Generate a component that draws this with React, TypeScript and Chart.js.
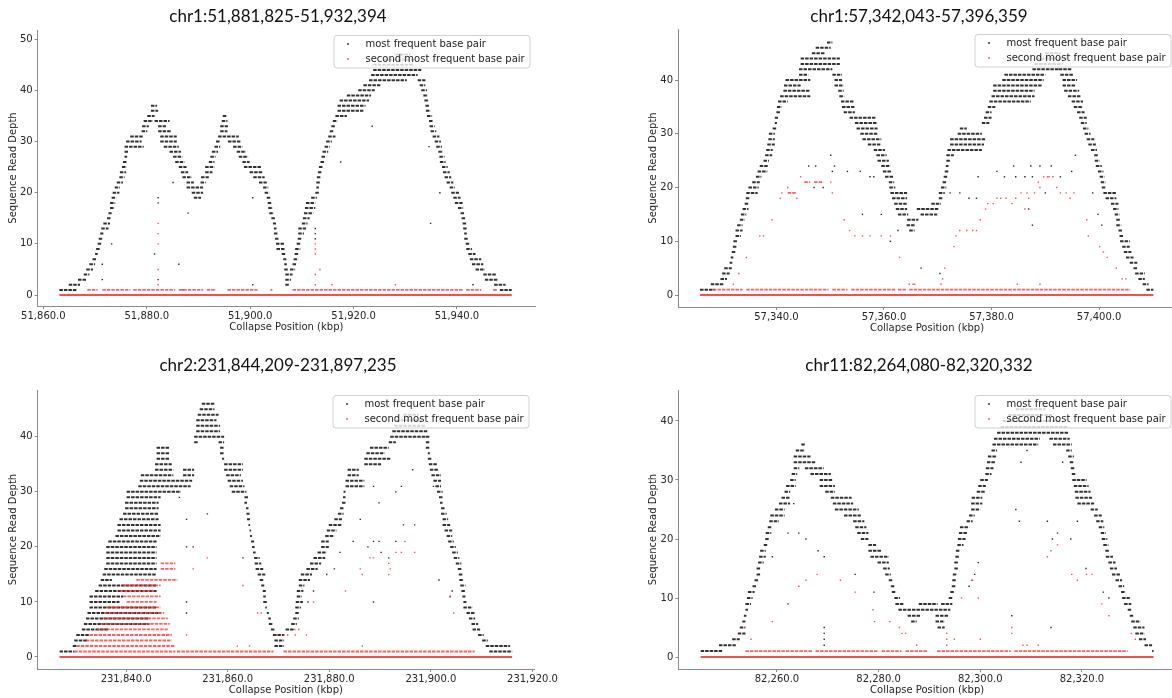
import React, { useEffect, useRef } from "react";
import { Chart, registerables } from "chart.js";
Chart.register(...registerables);

type Run = [number, number, number]; // [start kbp, end kbp, depth]
type Dot = [number, number]; // [kbp, depth]

// ---------------- Panel 1: chr1:51,881,825-51,932,394 ----------------
const p1Title = "chr1:51,881,825-51,932,394";
const p1Baseline: [number, number] = [51863.1, 51950.6];
const p1Black: Run[] = [
  [51863.1,51866.4,1],[51864.9,51867.1,2],[51866.7,51868.3,3],[51867.8,51868.9,4],[51868.3,51869.6,5],[51868.9,51870.0,6],[51869.5,51870.3,7],[51870.0,51870.5,8],[51870.2,51870.9,9],[51870.5,51871.2,10],[51870.7,51871.4,11],[51871.0,51871.6,12],[51871.2,51872.6,13],[51871.6,51872.9,14],[51872.3,51873.1,15],[51872.6,51873.2,16],[51872.9,51873.6,17],[51872.9,51873.9,18],[51873.2,51874.1,19],[51873.4,51874.7,20],[51873.8,51874.8,21],[51874.2,51875.4,22],[51874.7,51875.7,23],[51874.8,51876.0,24],[51875.2,51876.1,25],[51875.4,51876.1,26],[51875.7,51876.2,27],[51875.7,51876.5,28],[51875.7,51879.4,29],[51876.0,51879.0,30],[51876.8,51879.4,31],[51879.0,51880.1,32],[51879.1,51880.4,33],[51879.4,51881.2,34],[51880.1,51881.5,35],[51880.8,51882.2,36],[51880.8,51882.0,37],
  [51881.5,51884.4,34],[51882.2,51883.7,33],[51882.2,51884.8,32],[51882.6,51885.8,31],[51882.6,51885.8,30],[51883.3,51886.2,29],[51884.4,51886.6,28],[51885.1,51886.9,27],[51885.5,51887.3,26],[51886.2,51887.7,25],[51886.6,51888.0,24],[51886.9,51888.7,23],[51887.7,51889.1,22],[51887.7,51890.9,21],[51888.7,51890.9,20],[51889.1,51890.5,19],
  [51890.4,51891.4,22],[51890.5,51892.0,23],[51891.3,51892.7,24],[51891.3,51893.1,25],[51892.0,51893.1,26],[51892.3,51893.3,27],[51892.6,51893.8,28],[51893.1,51894.2,29],[51893.4,51894.2,30],[51893.8,51897.8,31],[51894.2,51895.6,32],[51894.2,51895.7,33],[51894.5,51895.6,34],[51894.7,51895.4,35],
  [51895.7,51898.1,30],[51896.7,51898.5,29],[51897.4,51899.2,28],[51897.8,51899.6,27],[51898.5,51899.9,26],[51898.8,51902.1,25],[51899.9,51902.5,24],[51900.6,51902.8,23],[51901.7,51903.2,22],[51902.5,51903.5,21],[51902.8,51903.7,20],[51903.2,51903.9,19],[51903.4,51904.1,18],[51903.5,51904.4,17],[51903.7,51904.6,16],[51904.1,51904.8,15],[51904.4,51905.0,14],[51904.6,51905.1,13],[51904.6,51905.3,12],[51904.8,51905.5,11],[51905.0,51906.6,10],[51905.1,51906.8,9],[51906.1,51906.8,8],[51906.4,51907.0,7],[51906.6,51907.1,6],[51906.6,51907.3,5],[51906.8,51908.2,4],[51906.8,51907.9,3],[51906.8,51907.5,2],
  [51907.7,51908.7,5],[51908.2,51909.0,6],[51908.4,51909.3,7],[51908.6,51909.3,8],[51908.7,51909.7,9],[51909.0,51909.7,10],[51909.2,51910.0,11],[51909.3,51910.4,12],[51909.3,51910.8,13],[51910.0,51911.1,14],[51910.2,51911.5,15],[51910.4,51912.2,16],[51910.6,51912.6,17],[51910.8,51912.6,18],[51911.8,51912.9,19],[51912.6,51913.3,20],[51912.8,51913.3,21],[51912.8,51913.5,22],[51912.9,51913.6,23],[51913.1,51913.8,24],[51913.3,51914.0,25],[51913.6,51914.4,26],[51913.8,51914.7,27],[51914.0,51915.1,28],[51914.4,51915.4,29],[51914.7,51915.8,30],[51915.1,51916.5,31],[51915.4,51916.2,32],[51915.7,51916.5,33],[51916.0,51916.9,34],[51916.5,51918.7,35],[51916.9,51921.9,36],[51916.9,51922.3,37],[51917.3,51923.0,38],[51918.7,51923.4,39],[51920.9,51924.1,40],[51921.9,51925.2,41],[51923.0,51930.3,42],[51923.4,51932.4,43],[51923.8,51933.1,44],[51923.8,51931.7,45],[51925.9,51931.7,46],[51928.1,51931.0,47],
  [51932.4,51933.9,42],[51932.8,51933.9,41],[51933.1,51934.2,40],[51933.5,51934.4,39],[51933.7,51934.6,38],[51933.9,51934.7,37],[51934.0,51934.9,36],[51934.2,51935.2,35],[51934.6,51935.3,34],[51934.7,51935.7,33],[51934.9,51936.0,32],[51935.3,51936.6,31],[51935.7,51936.9,30],[51936.0,51937.1,29],[51936.4,51937.3,28],[51936.6,51937.6,27],[51936.7,51937.8,26],[51937.1,51938.2,25],[51937.3,51938.6,24],[51937.6,51938.9,23],[51938.0,51939.3,22],[51938.6,51939.6,21],[51938.9,51940.4,20],[51939.3,51940.7,19],[51939.6,51941.1,18],[51940.2,51941.2,17],[51940.7,51941.4,16],[51940.9,51941.7,15],[51941.1,51941.8,14],[51941.2,51941.9,13],[51941.4,51941.9,12],[51941.4,51942.2,11],[51941.7,51942.5,10],[51941.8,51942.9,9],[51942.2,51943.6,8],[51942.5,51944.7,7],[51942.9,51945.1,6],[51943.6,51945.4,5],[51945.1,51947.6,4],[51945.4,51947.9,3],[51947.2,51949.4,2],[51948.3,51950.6,1],
];
const p1BlackDots: Dot[] = [
  [51873.2,10],[51871.4,6],[51871.4,3],[51881.5,8],[51882.2,19],[51882.2,18],[51882.2,3],[51886.2,6],[51888.0,16],[51885.1,22],[51900.5,19],[51900.5,2],[51917.5,26],[51923.6,33],[51934.6,29],[51934.9,14],[51936.7,20],[51943.1,2],[51912.6,13],[51912.6,12],[51912.6,11],[51887.0,1],
];
const p1RedRuns: Run[] = [
  [51868.5,51870.5,1],[51871.4,51876.8,1],[51877.4,51885.5,1],[51886.2,51890.9,1],[51891.6,51893.4,1],[51895.6,51901.4,1],[51903.9,51904.3,1],[51908.2,51941.1,1],[51941.8,51944.7,1],[51947.0,51947.6,1],
];
const p1RedDots: Dot[] = [
  [51882.2,14],[51882.2,12],[51882.2,10],[51882.2,5],[51882.2,2],[51912.6,10],[51912.6,9],[51912.6,8],[51912.6,2],[51913.5,5],[51912.6,4],[51915.8,2],[51928.1,2],[51947.6,1],
];

// ---------------- Panel 2: chr1:57,342,043-57,396,359 ----------------
const p2Title = "chr1:57,342,043-57,396,359";
const p2Baseline: [number, number] = [57325.8, 57410.1];
const p2Black: Run[] = [
  [57325.8,57328.5,1],[57327.8,57330.3,2],[57329.6,57330.8,3],[57329.9,57331.3,4],[57330.3,57331.7,5],[57331.3,57331.8,6],[57331.5,57332.0,7],[57331.7,57332.4,8],[57331.9,57332.7,9],[57332.0,57332.7,10],[57332.4,57333.4,11],[57332.4,57333.7,12],[57332.7,57333.7,13],[57333.2,57334.1,14],[57333.4,57334.4,15],[57333.7,57334.8,16],[57334.1,57334.8,17],[57334.3,57335.1,18],[57334.4,57336.5,19],[57334.8,57336.7,20],[57335.5,57336.9,21],[57336.2,57337.2,22],[57336.5,57338.3,23],[57336.9,57338.4,24],[57337.6,57338.6,25],[57337.9,57339.2,26],[57338.1,57339.3,27],[57338.3,57339.7,28],[57338.5,57339.7,29],[57338.6,57339.7,30],[57339.3,57340.0,31],[57339.7,57340.1,32],[57339.7,57340.3,33],[57340.0,57340.7,34],[57340.1,57341.0,35],[57340.3,57342.1,36],[57340.7,57346.3,37],[57341.3,57346.3,38],[57341.4,57344.5,39],[57341.7,57346.3,40],[57344.2,57345.9,41],[57344.2,57350.4,42],[57344.5,57351.8,43],[57344.5,57351.8,44],[57346.6,57349.0,45],[57347.3,57350.1,46],[57349.4,57350.4,47],
  [57350.4,57352.2,41],[57350.8,57352.2,40],[57350.8,57352.5,39],[57351.5,57352.5,38],[57351.7,57352.6,37],[57352.0,57354.5,36],[57352.2,57354.5,35],[57352.5,57354.6,34],[57353.6,57358.4,33],[57354.6,57358.8,32],[57354.9,57358.8,31],[57355.6,57358.8,30],[57356.0,57359.5,29],[57357.0,57359.5,28],[57358.1,57360.2,27],[57358.6,57360.5,26],[57358.8,57360.9,25],[57359.5,57361.2,24],[57359.8,57361.5,23],[57360.2,57361.7,22],[57360.9,57361.9,21],[57361.0,57362.1,20],[57361.2,57364.3,19],[57361.5,57364.3,18],[57361.9,57364.3,17],[57362.2,57364.3,16],[57362.6,57364.5,15],[57364.3,57366.4,14],[57364.2,57365.7,13],[57364.7,57365.7,12],
  [57366.1,57370.2,16],[57366.8,57369.9,15],
  [57368.8,57370.6,17],[57370.2,57370.9,18],[57370.2,57371.3,19],[57370.6,57371.6,20],[57370.9,57371.6,21],[57371.1,57371.8,22],[57371.3,57372.0,23],[57371.5,57372.0,24],[57371.6,57372.3,25],[57371.6,57373.0,26],[57371.8,57378.2,27],[57372.3,57378.6,28],[57372.3,57378.9,29],[57373.7,57378.2,30],[57374.1,57375.4,31],[57378.2,57379.6,32],[57378.6,57380.0,33],[57378.9,57380.0,34],[57379.3,57380.7,35],[57379.6,57387.3,36],[57380.0,57388.0,37],[57380.3,57388.0,38],[57380.3,57389.3,39],[57382.0,57389.7,40],[57382.4,57390.0,41],[57387.6,57392.8,42],[57388.0,57393.2,43],[57388.3,57394.2,44],[57390.0,57392.8,45],
  [57392.5,57394.9,42],[57392.8,57395.3,41],[57393.2,57395.9,40],[57393.2,57395.6,39],[57393.5,57396.3,38],[57394.2,57396.6,37],[57394.9,57397.0,36],[57395.3,57397.0,35],[57395.9,57397.3,34],[57396.3,57397.7,33],[57396.6,57397.7,32],[57397.0,57398.0,31],[57397.3,57398.4,30],[57397.7,57399.1,29],[57398.0,57399.4,28],[57398.5,57399.6,27],[57399.1,57399.9,26],[57399.2,57400.1,25],[57399.4,57400.5,24],[57399.8,57400.8,23],[57400.1,57401.0,22],[57400.3,57401.2,21],[57400.5,57401.3,20],[57400.8,57403.2,19],[57401.2,57403.2,18],[57402.2,57403.6,17],[57402.6,57403.6,16],[57402.9,57403.8,15],[57403.2,57403.9,14],[57403.2,57404.1,13],[57403.6,57404.3,12],[57403.8,57404.6,11],[57403.9,57405.7,10],[57404.3,57405.7,9],[57404.6,57406.0,8],[57405.0,57406.4,7],[57405.7,57407.1,6],[57406.4,57407.1,5],[57406.7,57408.5,4],[57407.3,57408.5,3],[57408.1,57409.2,2],[57408.8,57410.1,1],
];
const p2BlackDots: Dot[] = [
  [57346.0,24],[57347.3,24],[57350.1,26],[57350.4,23],[57350.8,24],[57353.2,23],[57355.6,23],[57357.4,22],[57358.1,22],[57347.0,20],[57348.7,20],[57356.0,15],[57359.5,15],[57362.6,12],[57361.2,10],[57366.9,5],[57370.4,4],[57372.3,19],[57374.1,19],[57375.8,18],[57377.2,18],[57377.5,22],[57381.0,23],[57382.4,22],[57384.1,24],[57384.5,22],[57386.2,22],[57387.3,24],[57387.6,22],[57389.0,24],[57391.1,24],[57392.8,22],[57394.9,23],[57395.6,26],[57398.8,19],[57399.8,15],[57400.5,13],[57387.6,13],[57386.9,16],[57390.0,19],
];
const p2RedRuns: Run[] = [
  [57328.2,57333.7,1],[57334.4,57349.7,1],[57350.4,57353.2,1],[57353.9,57362.2,1],[57362.6,57364.3,1],[57364.7,57405.8,1],
  [57342.1,57343.8,19],[57345.2,57346.3,21],[57347.0,57348.7,21],
];
const p2RedDots: Dot[] = [
  [57340.7,18],[57341.0,19],[57342.1,20],[57343.8,18],[57344.5,22],[57350.1,21],[57350.4,19],[57339.2,14],[57336.9,11],[57337.6,11],[57334.4,7],[57333.0,4],[57332.0,2],[57352.6,14],[57353.6,12],[57354.6,11],[57356.0,11],[57357.4,11],[57359.5,11],[57361.2,11],[57362.9,7],[57364.7,2],[57365.4,2],[57365.7,2],[57370.9,3],[57371.3,5],[57370.6,2],[57373.0,9],[57373.4,11],[57374.1,12],[57375.4,12],[57376.5,12],[57377.2,12],[57377.9,14],[57378.9,16],[57379.3,17],[57380.3,17],[57381.0,18],[57381.7,18],[57382.7,18],[57383.8,17],[57384.5,18],[57385.5,19],[57386.2,16],[57386.6,19],[57386.9,18],[57388.0,19],[57388.7,21],[57389.0,20],[57389.7,22],[57390.4,22],[57390.7,22],[57391.4,22],[57392.1,20],[57392.8,19],[57393.9,19],[57394.6,18],[57395.3,19],[57397.7,14],[57398.0,11],[57400.1,9],[57400.8,8],[57401.5,7],[57403.2,5],[57404.3,3],[57405.0,3],[57384.8,2],[57389.0,2],
];

// ---------------- Panel 3: chr2:231,844,209-231,897,235 ----------------
const p3Title = "chr2:231,844,209-231,897,235";
const p3Baseline: [number, number] = [231826.9, 231916.0];
const p3Black: Run[] = [
  [231826.9,231829.8,1],[231829.5,231830.2,2],[231829.8,231832.4,3],[231830.2,231832.8,4],[231831.3,231836.5,5],[231831.7,231844.6,6],[231832.1,231844.6,7],[231832.4,231846.8,8],[231832.8,231846.0,9],[231832.8,231838.7,10],[231832.8,231839.4,11],[231833.9,231846.0,12],[231834.6,231846.0,13],[231835.0,231837.2,14],[231835.4,231846.0,15],[231835.7,231846.0,16],[231836.1,231846.0,17],[231836.1,231846.0,18],[231836.1,231846.0,19],[231836.1,231846.0,20],[231836.5,231846.0,21],[231837.9,231846.8,22],[231838.3,231846.8,23],[231838.3,231846.8,24],[231838.7,231846.4,25],[231839.4,231846.4,26],[231839.8,231846.4,27],[231839.8,231846.4,28],[231840.1,231846.8,29],[231840.1,231850.8,30],[231842.4,231852.7,31],[231842.7,231853.0,32],[231842.9,231849.3,33],[231851.2,231853.4,33],[231845.7,231849.3,34],[231851.2,231853.4,34],[231845.7,231849.0,35],[231846.0,231848.6,36],[231846.0,231848.6,37],[231846.0,231848.6,38],
  [231853.4,231854.1,39],[231853.4,231859.3,40],[231853.8,231858.5,41],[231853.8,231858.5,42],[231853.8,231857.8,43],[231854.1,231858.2,44],[231854.5,231857.4,45],[231854.9,231857.4,46],
  [231858.2,231859.3,39],[231858.5,231859.3,38],[231858.5,231859.3,37],[231858.9,231859.3,36],[231859.3,231863.0,35],[231859.3,231863.0,34],[231859.7,231862.6,33],[231860.0,231863.0,32],[231860.4,231863.3,31],[231860.8,231863.7,30],[231863.3,231864.1,29],[231863.3,231863.8,28],[231863.6,231864.1,27],[231863.7,231864.3,26],[231863.8,231864.4,25],[231864.1,231864.4,24],[231864.3,231864.6,23],[231864.4,231864.8,22],[231864.6,231865.2,21],[231864.8,231865.3,20],[231865.0,231865.5,19],[231865.2,231866.3,18],[231865.3,231866.6,17],[231865.5,231867.0,16],[231865.9,231867.4,15],[231866.3,231867.0,14],[231866.6,231867.2,13],[231866.9,231867.5,12],[231867.0,231867.5,11],[231867.0,231867.7,10],[231867.4,231867.7,9],[231867.7,231868.1,8],[231868.0,231868.5,7],[231868.1,231868.9,6],[231868.5,231869.2,5],[231868.9,231871.1,4],[231869.2,231871.1,3],[231869.2,231871.1,2],
  [231871.4,231873.3,5],[231872.5,231873.6,6],[231872.9,231874.0,7],[231873.3,231874.0,8],[231873.3,231874.4,9],[231873.4,231874.7,10],[231873.6,231874.6,11],[231873.6,231874.9,12],[231874.0,231875.1,13],[231874.0,231876.2,14],[231874.4,231876.6,15],[231875.5,231877.7,16],[231876.2,231878.4,17],[231876.9,231879.2,18],[231877.7,231879.5,19],[231878.4,231879.9,20],[231878.4,231879.9,21],[231879.2,231881.0,22],[231879.5,231881.4,23],[231879.9,231882.5,24],[231881.0,231882.5,25],[231881.7,231882.8,26],[231882.1,231882.8,27],[231882.5,231883.2,28],[231882.7,231883.2,29],[231882.8,231883.2,30],[231883.2,231886.9,31],[231883.2,231886.9,32],[231883.6,231885.8,33],[231883.6,231885.8,34],[231886.9,231890.2,35],[231886.9,231892.0,36],[231887.3,231890.9,37],[231888.0,231891.7,38],[231891.7,231893.1,39],[231892.0,231899.0,40],[231892.4,231899.4,41],[231892.8,231899.0,42],[231893.1,231898.3,43],[231894.6,231897.6,44],
  [231899.0,231899.8,40],[231899.0,231899.8,39],[231899.0,231899.8,38],[231899.4,231899.8,37],[231899.4,231900.1,36],[231899.6,231901.2,35],[231899.8,231901.6,34],[231900.1,231902.0,33],[231900.5,231902.0,32],[231900.9,231902.0,31],[231901.2,231902.3,30],[231901.6,231902.3,29],[231901.8,231902.3,28],[231902.0,231902.7,27],[231902.0,231903.1,26],[231902.3,231903.4,25],[231902.3,231903.8,24],[231902.7,231904.2,23],[231903.1,231904.2,22],[231903.4,231904.5,21],[231903.8,231904.9,20],[231904.2,231905.3,19],[231904.5,231905.6,18],[231904.9,231906.0,17],[231905.3,231906.0,16],[231905.5,231906.4,15],[231905.6,231906.5,14],[231905.8,231906.8,13],[231906.0,231906.8,12],[231906.2,231906.8,11],[231906.4,231907.0,10],[231906.4,231908.2,9],[231907.0,231908.6,8],[231907.5,231908.7,7],[231908.0,231909.3,6],[231908.2,231909.7,5],[231909.3,231910.4,4],[231910.1,231911.2,3],[231910.8,231915.6,2],[231911.5,231916.0,1],
];
const p3BlackDots: Dot[] = [
  [231851.9,25],[231850.5,29],[231856.0,26],[231851.9,20],[231853.2,20],[231863.0,18],[231851.9,8],[231851.9,10],[231888.7,10],[231889.8,28],[231893.1,30],[231894.6,24],[231896.8,24],[231896.4,34],[231894.2,31],[231888.7,31],[231886.1,25],[231884.7,21],[231882.1,19],[231881.0,16],[231879.5,15],[231876.9,12],[231875.8,10],[231874.7,10],[231900.5,31],[231901.6,14],[231904.2,12],[231903.8,11],[231893.1,21],[231888.7,21],[231889.8,21],[231887.6,20],[231890.2,19],[231891.7,18],
];
const p3RedRuns: Run[] = [
  [231829.8,231849.7,1],[231850.0,231869.0,1],[231871.0,231908.6,1],
  [231830.2,231849.7,2],[231832.1,231849.0,3],[231832.8,231849.0,4],[231834.3,231848.2,5],[231835.0,231848.6,6],[231835.4,231848.2,7],[231835.7,231847.5,8],[231836.1,231846.8,9],[231840.1,231846.0,10],[231839.4,231846.8,11],[231838.7,231845.7,12],[231839.4,231846.8,13],[231842.0,231850.1,14],[231846.8,231849.7,16],[231846.8,231849.7,17],
];
const p3RedDots: Dot[] = [
  [231851.9,4],[231853.2,16],[231856.0,18],[231863.0,13],[231865.9,8],[231866.6,8],[231869.6,4],[231871.1,4],[231871.8,4],[231873.3,4],[231874.0,5],[231875.5,4],[231876.9,10],[231883.2,12],[231886.1,16],[231886.5,15],[231888.0,18],[231888.7,18],[231891.7,17],[231892.0,16],[231891.7,15],[231893.1,19],[231894.2,19],[231894.9,21],[231896.8,19],[231904.5,8],[231903.8,11],[231861.9,2],[231864.3,2],[231886.5,2],
];

// ---------------- Panel 4: chr11:82,264,080-82,320,332 ----------------
const p4Title = "chr11:82,264,080-82,320,332";
const p4Baseline: [number, number] = [82245.0, 82334.1];
const p4Black: Run[] = [
  [82245.0,82249.4,1],[82248.6,82251.9,2],[82251.2,82252.7,3],[82252.3,82253.8,4],[82252.7,82253.8,5],[82253.2,82253.8,6],[82253.5,82254.0,7],[82253.8,82254.3,8],[82253.8,82254.9,9],[82254.1,82255.2,10],[82254.3,82255.6,11],[82255.2,82256.0,12],[82255.6,82256.3,13],[82256.0,82256.7,14],[82256.0,82256.7,15],[82256.3,82257.4,16],[82256.5,82257.8,17],[82256.7,82257.8,18],[82257.4,82258.2,19],[82257.7,82258.5,20],[82257.8,82258.9,21],[82258.2,82258.9,22],[82258.5,82260.4,23],[82258.7,82261.5,24],[82259.6,82261.5,25],[82260.4,82262.6,26],[82260.9,82262.6,27],[82261.5,82262.6,28],[82261.8,82263.7,29],[82262.6,82263.7,30],[82262.9,82264.0,31],[82263.3,82264.4,32],[82263.3,82267.7,33],[82263.3,82266.6,34],[82263.7,82265.5,35],[82264.8,82265.5,36],
  [82265.5,82269.2,32],[82266.6,82270.6,31],[82268.4,82271.0,30],[82268.4,82271.4,29],[82269.5,82271.4,28],[82270.6,82274.7,27],[82271.0,82275.0,26],[82271.4,82276.1,25],[82273.2,82276.5,24],[82275.0,82277.2,23],[82275.4,82277.6,22],[82275.8,82278.0,21],[82276.5,82278.0,20],[82278.0,82279.5,19],[82278.0,82280.6,18],[82278.4,82282.0,17],[82279.8,82282.0,16],[82280.9,82282.2,15],[82281.3,82282.4,14],[82282.0,82282.9,13],[82282.4,82283.1,12],[82282.6,82283.5,11],[82283.1,82284.2,10],[82283.3,82285.0,9],
  [82283.9,82294.1,8],[82287.9,82291.6,9],[82285.7,82288.3,7],[82291.2,82293.8,7],[82286.4,82287.5,6],[82291.2,82293.0,6],[82291.6,82293.0,5],
  [82292.3,82294.5,9],[82293.8,82294.5,10],[82294.1,82294.9,11],[82294.4,82295.1,12],[82294.5,82295.2,13],[82294.6,82295.4,14],[82294.9,82295.6,15],[82294.9,82295.6,16],[82295.1,82295.8,17],[82295.2,82296.0,18],[82295.5,82296.7,19],[82295.6,82297.1,20],[82295.8,82297.4,21],[82296.0,82297.8,22],[82297.3,82298.5,23],[82297.8,82298.9,24],[82298.2,82300.0,25],[82298.2,82300.4,26],[82298.3,82300.4,27],[82299.3,82301.0,28],[82299.6,82301.1,29],[82300.0,82301.5,30],[82301.0,82302.2,31],[82301.1,82302.6,32],[82301.3,82303.0,33],[82301.5,82303.3,34],[82302.2,82303.3,35],[82302.4,82311.4,36],[82302.7,82311.7,37],[82303.3,82317.3,38],[82304.0,82317.3,39],[82304.4,82315.8,40],[82305.5,82314.3,41],[82307.0,82312.8,42],
  [82313.6,82317.6,37],[82314.3,82318.0,36],[82316.9,82318.0,35],[82317.3,82318.4,34],[82317.6,82318.4,33],[82317.8,82318.6,32],[82318.0,82318.7,31],[82318.1,82320.9,30],[82318.4,82321.3,29],[82318.6,82321.7,28],[82318.7,82322.0,27],[82319.1,82322.4,26],[82321.7,82323.1,25],[82322.4,82323.9,24],[82322.8,82324.2,23],[82323.3,82324.4,22],[82323.7,82324.7,21],[82323.9,82325.0,20],[82324.2,82325.2,19],[82324.6,82325.3,18],[82324.7,82326.1,17],[82325.2,82326.6,16],[82325.5,82326.9,15],[82325.9,82327.5,14],[82326.6,82327.9,13],[82327.2,82328.3,12],[82327.7,82328.6,11],[82327.9,82329.4,10],[82328.3,82329.7,9],[82329.0,82329.8,8],[82329.4,82330.1,7],[82329.7,82331.5,6],[82330.1,82332.3,5],[82330.5,82332.3,4],[82331.2,82332.6,3],[82332.3,82333.8,2],[82333.8,82334.1,1],
];
const p4BlackDots: Dot[] = [
  [82262.2,21],[82264.3,21],[82265.7,20],[82262.2,9],[82259.1,17],[82268.1,18],[82269.3,17],[82269.3,5],[82269.3,4],[82269.3,3],[82269.3,2],[82275.4,14],[82279.1,11],[82263.3,26],[82299.6,16],[82298.9,14],[82297.8,12],[82306.2,7],[82313.9,5],[82307.0,25],[82307.7,23],[82313.2,23],[82315.2,21],[82314.2,20],[82317.8,20],[82319.1,23],[82320.8,15],[82324.2,11],[82325.3,10],[82308.0,33],[82309.2,35],[82316.2,33],
];
const p4RedRuns: Run[] = [
  [82253.8,82267.0,1],[82267.6,82280.0,1],[82280.6,82284.5,1],[82285.3,82289.7,1],[82291.5,82306.0,1],[82306.7,82329.0,1],
];
const p4RedDots: Dot[] = [
  [82254.9,3],[82259.1,6],[82264.3,12],[82265.7,13],[82267.9,14],[82272.5,13],[82275.4,11],[82278.9,8],[82279.2,6],[82282.2,6],[82284.1,5],[82284.6,4],[82285.3,4],[82287.5,2],[82293.4,4],[82293.4,3],[82293.4,2],[82294.9,3],[82296.3,10],[82298.5,13],[82298.3,13],[82299.6,10],[82300.0,3],[82306.2,4],[82306.2,5],[82308.4,2],[82309.2,2],[82311.4,2],[82313.2,17],[82313.9,18],[82315.2,19],[82318.0,14],[82319.1,13],[82320.9,14],[82322.0,14],[82323.9,9],[82325.3,7],[82329.7,4],[82330.5,3],
];

const legendLabels = ["most frequent base pair", "second most frequent base pair"];
const xAxisLabel = "Collapse Position (kbp)";
const yAxisLabel = "Sequence Read Depth";

interface PanelSpec {
  title: string; titleX: number; titleY: number;
  left: number; top: number; width: number; height: number;
  pad: { left: number; right: number; top: number; bottom: number };
  yW: number; xH: number;
  xMin: number; xMax: number; yMin: number; yMax: number;
  black: Run[]; blackDots: Dot[]; redRuns: Run[]; redDots: Dot[]; baseline: [number, number];
}

const panels: PanelSpec[] = [
  { title: p1Title, titleX: 278, titleY: 15, left: 0, top: 0, width: 586, height: 349,
    pad: { left: 7, right: 51, top: 30, bottom: 16 }, yW: 30.7, xH: 27,
    xMin: 51858.9, xMax: 51955.1, yMin: -2.15, yMax: 51.8,
    black: p1Black, blackDots: p1BlackDots, redRuns: p1RedRuns, redDots: p1RedDots, baseline: p1Baseline },
  { title: p2Title, titleX: 919, titleY: 15, left: 586, top: 0, width: 600, height: 349,
    pad: { left: 61, right: 10, top: 29, bottom: 15 }, yW: 31, xH: 27,
    xMin: 57321.7, xMax: 57414.3, yMin: -2.23, yMax: 49.5,
    black: p2Black, blackDots: p2BlackDots, redRuns: p2RedRuns, redDots: p2RedDots, baseline: p2Baseline },
  { title: p3Title, titleX: 278, titleY: 364, left: 0, top: 349, width: 586, height: 349,
    pad: { left: 7, right: 52, top: 41, bottom: 2 }, yW: 30.7, xH: 27,
    xMin: 231822.6, xMax: 231920.3, yMin: -2.18, yMax: 48.5,
    black: p3Black, blackDots: p3BlackDots, redRuns: p3RedRuns, redDots: p3RedDots, baseline: p3Baseline },
  { title: p4Title, titleX: 919, titleY: 364, left: 586, top: 349, width: 600, height: 349,
    pad: { left: 61, right: 10, top: 41, bottom: 2 }, yW: 31.3, xH: 27,
    xMin: 82240.6, xMax: 82338.5, yMin: -2.03, yMax: 45.25,
    black: p4Black, blackDots: p4BlackDots, redRuns: p4RedRuns, redDots: p4RedDots, baseline: p4Baseline },
];

const fmtK = (v: number) => {
  const s = Number(v).toFixed(1);
  const [i, d] = s.split(".");
  return i.replace(/\B(?=(\d{3})+(?!\d))/g, ",") + "." + d;
};

const runsToPoints = (runs: Run[]) => {
  const pts: { x: number; y: number | null }[] = [];
  runs.forEach(([a, b, y]) => {
    pts.push({ x: a, y }, { x: b, y }, { x: b, y: null });
  });
  return pts;
};

const FONT = '"DejaVu Sans", sans-serif';

const legendPlugin = {
  id: "boxLegend",
  afterDatasetsDraw(chart: any) {
    const { ctx, chartArea } = chart;
    const w = 196, h = 32.5;
    const x = chartArea.right - 5 - w;
    const y = chartArea.top + 5.5;
    ctx.save();
    ctx.beginPath();
    if (ctx.roundRect) ctx.roundRect(x, y, w, h, 3); else ctx.rect(x, y, w, h);
    ctx.fillStyle = "rgba(255,255,255,0.8)";
    ctx.fill();
    ctx.strokeStyle = "rgba(204,204,204,0.9)";
    ctx.lineWidth = 1;
    ctx.stroke();
    const rows = [y + 8.5, y + 23.5];
    const colors = ["#222", "rgba(255,60,60,0.9)"];
    rows.forEach((ry, i) => {
      ctx.fillStyle = colors[i];
      ctx.beginPath();
      ctx.arc(x + 14, ry, 0.9, 0, Math.PI * 2);
      ctx.fill();
      ctx.fillStyle = "#222";
      ctx.font = `10px ${FONT}`;
      ctx.textBaseline = "middle";
      ctx.textAlign = "left";
      ctx.fillText(legendLabels[i], x + 31.5, ry);
    });
    ctx.restore();
  },
};

function Panel({ spec }: { spec: PanelSpec }) {
  const ref = useRef<HTMLCanvasElement | null>(null);
  useEffect(() => {
    if (!ref.current) return;
    const axisColor = "#8a8a8a";
    const chart = new Chart(ref.current, {
      type: "scatter",
      data: {
        datasets: [
          {
            data: spec.redDots.map(([x, y]) => ({ x, y })),
            backgroundColor: "rgba(255,50,50,0.85)", borderWidth: 0,
            pointRadius: 1, pointStyle: "rect",
          } as any,
          {
            data: runsToPoints(spec.redRuns), showLine: true,
            borderColor: "rgba(255,55,55,0.8)", borderWidth: 1.8, borderDash: [3.5, 1],
            pointRadius: 0, spanGaps: false,
          } as any,
          {
            data: [{ x: spec.baseline[0], y: 0 }, { x: spec.baseline[1], y: 0 }], showLine: true,
            borderColor: "rgba(245,60,60,0.9)", borderWidth: 2, pointRadius: 0,
          } as any,
          {
            data: spec.blackDots.map(([x, y]) => ({ x, y })),
            backgroundColor: "rgba(20,20,20,0.9)", borderWidth: 0,
            pointRadius: 1, pointStyle: "rect",
          } as any,
          {
            data: runsToPoints(spec.black), showLine: true,
            borderColor: "rgba(20,20,20,0.88)", borderWidth: 2, borderDash: [3.5, 1],
            pointRadius: 0, spanGaps: false,
          } as any,
        ],
      },
      options: {
        responsive: false,
        animation: false,
        devicePixelRatio: 1,
        layout: { padding: spec.pad },
        plugins: { legend: { display: false }, tooltip: { enabled: false }, title: { display: false } },
        scales: {
          x: {
            type: "linear", min: spec.xMin, max: spec.xMax,
            afterFit: (s: any) => { s.height = spec.xH; },
            border: { display: true, color: axisColor, width: 1 },
            grid: { display: true, drawOnChartArea: false, drawTicks: true, tickLength: 3, color: axisColor },
            ticks: {
              stepSize: 20, includeBounds: false, autoSkip: false, maxRotation: 0, padding: 1,
              color: "#262626", font: { family: FONT, size: 10 },
              callback: (v: any) => fmtK(Number(v)),
            },
            title: { display: true, text: xAxisLabel, color: "#262626", font: { family: FONT, size: 10 }, padding: 0 },
          },
          y: {
            type: "linear", min: spec.yMin, max: spec.yMax,
            afterFit: (s: any) => { s.width = spec.yW; },
            border: { display: true, color: axisColor, width: 1 },
            grid: { display: true, drawOnChartArea: false, drawTicks: true, tickLength: 3, color: axisColor },
            ticks: {
              stepSize: 10, includeBounds: false, autoSkip: false, padding: 2,
              color: "#262626", font: { family: FONT, size: 10 },
              callback: (v: any) => String(Math.round(Number(v))),
            },
            title: { display: true, text: yAxisLabel, color: "#262626", font: { family: FONT, size: 10 }, padding: 0 },
          },
        },
      } as any,
      plugins: [legendPlugin],
    });
    return () => chart.destroy();
  }, [spec]);
  return (
    <>
      <canvas
        ref={ref}
        width={spec.width}
        height={spec.height}
        style={{ position: "absolute", left: spec.left, top: spec.top, width: spec.width, height: spec.height }}
      />
      <div
        style={{
          position: "absolute", left: spec.titleX, top: spec.titleY, transform: "translate(-50%, -50%)",
          fontFamily: "Lato, sans-serif", fontSize: 17, color: "#111", whiteSpace: "nowrap", lineHeight: 1,
        }}
      >
        {spec.title}
      </div>
    </>
  );
}

export default function App() {
  return (
    <div
      style={{
        position: "fixed", left: 0, top: 0, width: 1172, height: 698, overflow: "hidden", background: "#fff",
      }}
    >
      {panels.map((p, i) => (
        <Panel key={i} spec={p} />
      ))}
    </div>
  );
}
